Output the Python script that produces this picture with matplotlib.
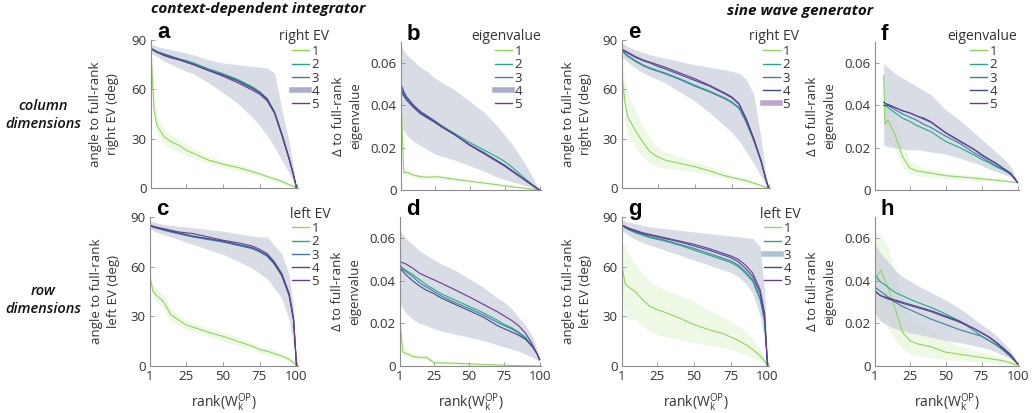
import matplotlib
matplotlib.use("Agg")
import matplotlib.pyplot as plt
import numpy as np
from matplotlib.lines import Line2D
from matplotlib.colors import to_rgb

plt.rcParams['font.family'] = ['Open Sans', 'DejaVu Sans']
plt.rcParams['mathtext.fontset'] = 'custom'
plt.rcParams['mathtext.rm'] = 'Open Sans'
plt.rcParams['mathtext.it'] = 'Open Sans:italic'

# sample points of rank(W^OP_k)
rank = [1, 3, 5, 10, 15, 20, 25, 30, 40, 50, 60, 70, 75, 80, 85, 90, 95, 98, 100]
rank_f = [7, 8, 10, 15, 20, 25, 30, 35, 40, 50, 60, 70, 75, 80, 85, 90, 95, 98, 100]

ev_names = ['1', '2', '3', '4', '5']
ev_colors = ['#8fd65e', '#25a98b', '#3f7f9d', '#3f4a8c', '#6c3a91']

# ---- a: context-dependent integrator, right EV angle (deg)
a_ev = [
    [84, 48, 38, 31, 28, 26, 23, 21, 17, 14.5, 12.5, 10, 8.5, 7, 5.5, 4, 2, 1, 0],
    [85, 84, 83, 81, 80, 78.5, 77.5, 76, 72.5, 69.5, 66, 61.5, 58.5, 54.5, 46.5, 33, 18, 8, 0],
    [85, 84, 83, 81.5, 80, 78.5, 77, 75.5, 72, 69, 65.5, 61, 58, 54, 46, 33, 18, 8, 0],
    [85, 83.5, 82.5, 81, 79.5, 78, 76.5, 75, 71.5, 68.5, 65, 60.5, 58, 54, 46, 32.5, 17.5, 7.5, 0],
    [84.5, 83.5, 82.5, 80.5, 79, 78, 76.5, 75, 71.5, 68, 64, 59.5, 57, 53, 45.5, 32, 17.5, 7.5, 0],
]
a_ev1_lo = [80, 42, 33, 27, 24, 22, 20, 18, 15, 12.5, 10.5, 8.5, 7, 5.5, 4, 2.5, 1, 0.5, 0]
a_ev1_hi = [87, 55, 44, 36, 32, 30, 27, 24, 19.5, 16.5, 14.5, 12, 10, 8.5, 7, 5.5, 3, 1.5, 0]
a_lo = [82, 81, 80, 77, 75, 73, 71, 69.5, 64, 58, 51.5, 43, 38, 32, 25, 17, 9, 4, 0]
a_hi = [87, 87, 86, 85, 84, 83, 82, 81, 78, 76, 75, 74, 73.5, 73, 70, 48, 28, 12, 0]

# ---- c: context-dependent integrator, left EV angle (deg)
c_ev = [
    [54, 45, 43, 39, 31, 28, 25, 23.5, 20.5, 18, 15, 12, 10, 9, 7.5, 6, 4, 2, 0],
    [85, 84, 83.5, 82, 81, 80, 79, 78, 76.5, 75, 73, 71, 69, 66.5, 62, 55, 43, 28, 0],
    [85, 84, 83.5, 82.5, 81, 80, 79, 78, 76.5, 75, 73, 71, 69, 66.5, 61.5, 54.5, 42.5, 27.5, 0],
    [85, 84, 83.5, 82.5, 81.5, 80.5, 79.5, 78.5, 77, 75.5, 73.5, 71.5, 69.5, 67, 62, 55, 43, 28, 0],
    [85, 84.5, 84, 83, 82, 81, 80.5, 80, 78, 76, 74.5, 72.5, 70.5, 68, 63, 56, 44, 29, 0],
]
c_ev1_lo = [50, 41, 39, 35, 27, 25, 22, 21, 18, 15.5, 12.5, 10, 8, 7, 5.5, 4.5, 2.5, 1, 0]
c_ev1_hi = [58, 49, 47, 43, 35, 31, 28, 26, 23, 20.5, 17.5, 14, 12, 11, 9.5, 7.5, 5.5, 3, 0]
c_lo = [83, 82, 81, 79.5, 78, 76.5, 75, 73.5, 70.5, 67.5, 63.5, 59, 56, 53, 47, 41, 28, 12, 0]
c_hi = [87, 87, 86.5, 85.5, 85, 84.5, 84, 83.5, 82.5, 81.5, 80, 78.5, 78, 78, 73, 68, 55, 35, 0]

# ---- e: sine wave generator, right EV angle (deg)
e_ev = [
    [68, 52, 43, 35, 28, 22, 19, 17, 15, 13, 10.5, 7.5, 6.5, 5.5, 4.5, 3, 1.5, 0.5, 0],
    [84, 82, 80.5, 77.5, 75, 73, 71.5, 70, 66.5, 62.5, 59, 55, 52.5, 49, 40, 29, 16, 6, 0],
    [84, 81.5, 80, 77, 74.5, 72.5, 71, 69.5, 66, 62, 58.5, 54.5, 52, 48.5, 40, 29, 16, 6, 0],
    [84.5, 83, 82, 79.5, 77.5, 76, 74, 72.5, 69, 65.5, 62, 57.5, 55, 51, 41.5, 30, 16.5, 6, 0],
    [84.5, 83.5, 82.5, 80, 78, 76.5, 75, 73.5, 70, 66.5, 62.5, 58, 55.5, 51.5, 42, 30, 16.5, 6, 0],
]
e_ev1_lo = [60, 40, 32, 25, 19, 15, 13, 12, 11, 10, 8, 6, 5, 4, 3, 2, 1, 0.3, 0]
e_ev1_hi = [76, 66, 58, 47, 38, 30, 25, 22, 19, 16, 13, 9.5, 8, 7, 6, 4, 2, 0.8, 0]
e_lo = [80, 78, 76.5, 73, 70, 68, 66, 64, 58.5, 53, 46, 38, 34, 29, 22, 15, 7, 2, 0]
e_hi = [88, 87, 86, 84, 82.5, 81, 80, 79, 77, 75, 73.5, 72, 71, 70, 66, 57, 30, 10, 0]

# ---- g: sine wave generator, left EV angle (deg)
g_ev = [
    [61, 50, 48, 45, 40, 36, 34, 32.5, 29, 25, 22, 19.5, 17.5, 15.5, 13, 10, 6, 3, 0],
    [85, 83.5, 82.5, 80.5, 79, 77.5, 76.5, 75.5, 73, 70, 67, 64, 62.5, 60, 56, 51, 40, 27, 0],
    [85, 84, 83, 81, 79.5, 78, 77, 76, 73.5, 71, 68, 65, 63.5, 61, 57, 52, 41, 28, 0],
    [85, 84, 83, 81.5, 80, 79, 78, 77, 75, 72.5, 70, 67, 65.5, 63, 59, 54, 44, 30, 0],
    [85, 84.5, 83.5, 82, 80.5, 79.5, 78.5, 77.5, 75.5, 73.5, 71, 68, 66.5, 64.5, 61, 56, 46, 32, 0],
]
g_ev1_lo = [45, 30, 28, 28, 24, 21, 19, 18, 16, 14, 12.5, 11, 10, 8.5, 7, 5, 3, 1.5, 0]
g_ev1_hi = [76, 72, 68, 62, 56, 51, 48, 46, 42.5, 39, 34, 29.5, 27, 24, 21, 16, 10, 5, 0]
g_lo = [82, 80.5, 79, 76.5, 74.5, 73, 71.5, 70, 67, 64, 61, 58, 56.5, 54, 50, 44, 30, 15, 0]
g_hi = [88, 87.5, 87, 86, 85, 84, 83.5, 83, 82, 81, 80, 79, 78.5, 78, 77.5, 77, 72, 45, 0]

# ---- b: context-dependent integrator, eigenvalue difference
b_ev = [
    [0.043, 0.008, 0.0085, 0.007, 0.0063, 0.006, 0.0063, 0.006, 0.005, 0.0042, 0.0033, 0.0025, 0.002, 0.0016, 0.0012, 0.0008, 0.0004, 0.0002, 0.0],
    [0.049, 0.046, 0.044, 0.040, 0.037, 0.035, 0.0328, 0.0305, 0.0265, 0.0225, 0.019, 0.0155, 0.0135, 0.011, 0.008, 0.0052, 0.0025, 0.001, 0.0],
    [0.048, 0.045, 0.043, 0.0395, 0.0365, 0.0345, 0.0322, 0.030, 0.026, 0.0215, 0.0178, 0.0138, 0.0118, 0.0094, 0.007, 0.0046, 0.0022, 0.0008, 0.0],
    [0.047, 0.0445, 0.0425, 0.039, 0.036, 0.034, 0.032, 0.0298, 0.0258, 0.0213, 0.0175, 0.0135, 0.0115, 0.0092, 0.0068, 0.0045, 0.0022, 0.0008, 0.0],
    [0.050, 0.0465, 0.044, 0.040, 0.037, 0.0348, 0.0325, 0.030, 0.026, 0.0212, 0.0173, 0.0133, 0.0113, 0.009, 0.0067, 0.0044, 0.0021, 0.0008, 0.0],
]
b_ev1_lo = [0.040, 0.007, 0.0075, 0.006, 0.0055, 0.0052, 0.0055, 0.0052, 0.0043, 0.0036, 0.0028, 0.002, 0.0016, 0.0012, 0.0009, 0.0006, 0.0003, 0.0001, 0.0]
b_ev1_hi = [0.046, 0.0095, 0.0098, 0.0082, 0.0073, 0.007, 0.0072, 0.0069, 0.0058, 0.0049, 0.0039, 0.003, 0.0025, 0.002, 0.0015, 0.001, 0.0005, 0.0003, 0.0]
b_lo = [0.030, 0.028, 0.026, 0.023, 0.021, 0.019, 0.017, 0.016, 0.014, 0.0115, 0.009, 0.006, 0.005, 0.004, 0.003, 0.002, 0.001, 0.0003, 0.0]
b_hi = [0.068, 0.066, 0.064, 0.061, 0.058, 0.056, 0.053, 0.051, 0.047, 0.042, 0.037, 0.030, 0.026, 0.022, 0.017, 0.012, 0.006, 0.002, 0.0]

# ---- d: context-dependent integrator, eigenvalue difference (left)
d_ev = [
    [0.021, 0.0065, 0.006, 0.0045, 0.004, 0.004, 0.0015, 0.0015, 0.0013, 0.001, 0.0007, 0.0005, 0.0004, 0.0003, 0.0002, 0.0001, 0.0001, 0.0, 0.0],
    [0.047, 0.046, 0.045, 0.043, 0.0405, 0.038, 0.036, 0.034, 0.031, 0.028, 0.025, 0.0215, 0.0195, 0.018, 0.016, 0.0135, 0.009, 0.006, 0.003],
    [0.0475, 0.0455, 0.0445, 0.042, 0.039, 0.037, 0.035, 0.033, 0.0298, 0.027, 0.024, 0.0205, 0.019, 0.0175, 0.0155, 0.013, 0.009, 0.006, 0.003],
    [0.046, 0.0445, 0.043, 0.040, 0.0375, 0.0355, 0.034, 0.032, 0.029, 0.026, 0.023, 0.019, 0.0175, 0.016, 0.0145, 0.0125, 0.009, 0.006, 0.003],
    [0.049, 0.0485, 0.048, 0.046, 0.0435, 0.042, 0.0405, 0.039, 0.0358, 0.0325, 0.029, 0.0255, 0.0235, 0.0215, 0.019, 0.0155, 0.010, 0.006, 0.003],
]
d_ev1_lo = [0.018, 0.005, 0.0045, 0.0033, 0.003, 0.003, 0.0008, 0.0008, 0.0007, 0.0005, 0.0003, 0.0002, 0.0002, 0.0001, 0.0001, 0.0, 0.0, 0.0, 0.0]
d_ev1_hi = [0.024, 0.0085, 0.0078, 0.006, 0.0052, 0.0052, 0.0024, 0.0022, 0.002, 0.0016, 0.0012, 0.0009, 0.0007, 0.0006, 0.0004, 0.0003, 0.0002, 0.0001, 0.0]
d_lo = [0.030, 0.027, 0.025, 0.022, 0.020, 0.019, 0.0175, 0.0165, 0.015, 0.0135, 0.012, 0.010, 0.009, 0.008, 0.007, 0.0055, 0.004, 0.003, 0.002]
d_hi = [0.064, 0.062, 0.060, 0.057, 0.054, 0.052, 0.050, 0.048, 0.045, 0.041, 0.037, 0.032, 0.030, 0.027, 0.023, 0.019, 0.014, 0.008, 0.004]

# ---- f: sine wave generator, eigenvalue difference (uses rank_f)
f_ev = [
    [0.054, 0.031, 0.033, 0.026, 0.016, 0.0105, 0.009, 0.0085, 0.008, 0.0068, 0.0062, 0.0056, 0.0053, 0.005, 0.0046, 0.0043, 0.0039, 0.0037, 0.0035],
    [0.040, 0.040, 0.039, 0.0365, 0.034, 0.0325, 0.0305, 0.029, 0.0275, 0.023, 0.020, 0.0165, 0.0145, 0.013, 0.011, 0.0095, 0.0075, 0.005, 0.0035],
    [0.0415, 0.041, 0.040, 0.038, 0.036, 0.0345, 0.033, 0.031, 0.0295, 0.0255, 0.022, 0.0175, 0.0155, 0.0135, 0.0115, 0.0097, 0.0076, 0.0055, 0.0035],
    [0.0415, 0.041, 0.0405, 0.039, 0.0375, 0.0365, 0.035, 0.0335, 0.032, 0.027, 0.023, 0.019, 0.0165, 0.0145, 0.0125, 0.0102, 0.008, 0.0055, 0.0035],
    [0.040, 0.040, 0.040, 0.039, 0.0375, 0.0365, 0.035, 0.034, 0.0322, 0.0272, 0.0232, 0.0192, 0.0168, 0.0147, 0.0127, 0.0103, 0.008, 0.0055, 0.0035],
]
f_ev1_lo = [0.046, 0.022, 0.024, 0.019, 0.011, 0.0075, 0.0068, 0.0064, 0.006, 0.0053, 0.0049, 0.0045, 0.0043, 0.0041, 0.0039, 0.0037, 0.0035, 0.0034, 0.0033]
f_ev1_hi = [0.062, 0.040, 0.042, 0.034, 0.022, 0.014, 0.0115, 0.0106, 0.0098, 0.0083, 0.0075, 0.0067, 0.0063, 0.0059, 0.0054, 0.005, 0.0044, 0.004, 0.0037]
f_lo = [0.021, 0.021, 0.0205, 0.020, 0.0195, 0.019, 0.019, 0.0185, 0.018, 0.017, 0.015, 0.0128, 0.0115, 0.010, 0.0088, 0.0075, 0.0063, 0.005, 0.0035]
f_hi = [0.060, 0.059, 0.058, 0.055, 0.053, 0.051, 0.049, 0.047, 0.045, 0.038, 0.033, 0.027, 0.024, 0.021, 0.018, 0.015, 0.0115, 0.007, 0.0035]

# ---- h: sine wave generator, eigenvalue difference (left)
h_ev = [
    [0.040, 0.043, 0.045, 0.037, 0.027, 0.016, 0.012, 0.0105, 0.009, 0.0065, 0.0055, 0.0045, 0.004, 0.0035, 0.003, 0.0025, 0.0015, 0.0008, 0.0005],
    [0.043, 0.041, 0.0395, 0.037, 0.0345, 0.033, 0.0315, 0.030, 0.0275, 0.0245, 0.021, 0.0165, 0.014, 0.012, 0.010, 0.0075, 0.0045, 0.0025, 0.001],
    [0.037, 0.036, 0.035, 0.0325, 0.030, 0.028, 0.0265, 0.025, 0.022, 0.0195, 0.017, 0.015, 0.014, 0.012, 0.010, 0.0075, 0.0045, 0.0025, 0.001],
    [0.0355, 0.034, 0.033, 0.032, 0.031, 0.030, 0.029, 0.028, 0.026, 0.0235, 0.021, 0.0175, 0.0155, 0.0135, 0.011, 0.008, 0.005, 0.0025, 0.001],
    [0.035, 0.034, 0.033, 0.0315, 0.0305, 0.0295, 0.0285, 0.0275, 0.0255, 0.023, 0.0205, 0.0175, 0.0157, 0.0138, 0.0113, 0.0085, 0.0055, 0.003, 0.001],
]
h_ev1_lo = [0.022, 0.020, 0.022, 0.018, 0.012, 0.008, 0.006, 0.005, 0.004, 0.003, 0.0025, 0.002, 0.0018, 0.0015, 0.0012, 0.001, 0.0007, 0.0004, 0.0003]
h_ev1_hi = [0.063, 0.062, 0.062, 0.056, 0.045, 0.032, 0.025, 0.021, 0.017, 0.012, 0.0095, 0.0075, 0.0065, 0.0058, 0.005, 0.004, 0.0025, 0.0013, 0.0007]
h_lo = [0.025, 0.023, 0.021, 0.019, 0.0175, 0.0165, 0.0155, 0.015, 0.0135, 0.012, 0.011, 0.0095, 0.0088, 0.008, 0.0065, 0.005, 0.0035, 0.002, 0.001]
h_hi = [0.058, 0.055, 0.053, 0.049, 0.045, 0.042, 0.040, 0.038, 0.0345, 0.031, 0.027, 0.022, 0.0195, 0.017, 0.0145, 0.011, 0.0075, 0.004, 0.001]

W, H = 1036, 413
fig = plt.figure(figsize=(W / 100, H / 100), dpi=100)

spine_col = '#8c8c8c'
text_col = '#333333'


def px_axes(left, top, right, bottom):
    return fig.add_axes([left / W, 1 - bottom / H, (right - left) / W, (bottom - top) / H])


def pale(c, k=0.45):
    r, g, b = to_rgb(c)
    return (1 - k + k * r, 1 - k + k * g, 1 - k + k * b)


def draw_panel(box, x, ev, ev1_lo, ev1_hi, lo, hi, angle, ylab, ylab_x, bottom_row, letter):
    ax = px_axes(*box)
    ax.fill_between(x, ev1_lo, ev1_hi, color=ev_colors[0], alpha=0.16, lw=0)
    ax.fill_between(x, lo, hi, color='#c8cfdb', alpha=0.72, lw=0)
    for i in range(5):
        ax.plot(x, ev[i], color=ev_colors[i], lw=0.8)
    ax.set_xlim(1, 101)
    ax.set_xticks([1, 25, 50, 75, 100])
    if angle:
        ax.set_ylim(0, 90)
        ax.set_yticks([0, 30, 60, 90])
    else:
        ax.set_ylim(0, 0.07)
        ax.set_yticks([0, 0.02, 0.04, 0.06])
        ax.set_yticklabels(['0', '0.02', '0.04', '0.06'])
    for s in ['top', 'right']:
        ax.spines[s].set_visible(False)
    for s in ['left', 'bottom']:
        ax.spines[s].set_color(spine_col)
        ax.spines[s].set_linewidth(0.8)
    ax.tick_params(direction='in', length=3, width=0.6, color=spine_col,
                   labelsize=9.5, labelcolor=text_col, pad=3)
    if bottom_row:
        ax.set_xlabel(r'rank(W$^{\mathrm{OP}}_{\mathrm{k}}$)', fontsize=10, color=text_col, labelpad=6)
    else:
        ax.tick_params(labelbottom=False)
    ax.set_ylabel(ylab, fontsize=9.5, color=text_col, linespacing=1.4)
    # right edge of the rotated label, in pixels
    ax.yaxis.set_label_coords((ylab_x - box[0]) / (box[2] - box[0]), 0.5)
    fig.text((box[0] + 6) / W, 1 - (box[1] - 2) / H, letter, fontsize=16, fontweight='bold',
             family=['Liberation Sans', 'DejaVu Sans'], va='baseline', ha='left')
    return ax


def add_legend(ax, title, title_right, title_y, entries_right, entries_top, patch_idx=None):
    handles = []
    for i, c in enumerate(ev_colors):
        if i == patch_idx:
            handles.append(Line2D([], [], color=pale(c), lw=4))
        else:
            handles.append(Line2D([], [], color=c, lw=1))
    leg = ax.legend(handles, ev_names, loc='upper right',
                    bbox_to_anchor=(entries_right / W, 1 - entries_top / H), bbox_transform=fig.transFigure,
                    frameon=False, fontsize=9.5, handlelength=1.3,
                    handletextpad=0.15, labelspacing=0.02, borderpad=0, borderaxespad=0)
    for t in leg.get_texts():
        t.set_color(text_col)
    leg.set_zorder(10)
    fig.text(title_right / W, 1 - title_y / H, title, fontsize=10, color=text_col,
             ha='right', va='center')


lab_r = 'angle to full-rank\nright EV (deg)'
lab_l = 'angle to full-rank\nleft EV (deg)'
lab_d = '\u0394 to full-rank\neigenvalue'

ax_a = draw_panel((151, 40, 298, 188), rank, a_ev, a_ev1_lo, a_ev1_hi, a_lo, a_hi, True, lab_r, 119, False, 'a')
ax_b = draw_panel((401, 42, 541, 190), rank, b_ev, b_ev1_lo, b_ev1_hi, b_lo, b_hi, False, lab_d, 362, False, 'b')
ax_e = draw_panel((622, 40, 770, 188), rank, e_ev, e_ev1_lo, e_ev1_hi, e_lo, e_hi, True, lab_r, 592, False, 'e')
ax_f = draw_panel((875, 42, 1019, 190), rank_f, f_ev, f_ev1_lo, f_ev1_hi, f_lo, f_hi, False, lab_d, 836, False, 'f')
ax_c = draw_panel((150, 217, 298, 366), rank, c_ev, c_ev1_lo, c_ev1_hi, c_lo, c_hi, True, lab_l, 120, True, 'c')
ax_d = draw_panel((400, 217, 541, 366), rank, d_ev, d_ev1_lo, d_ev1_hi, d_lo, d_hi, False, lab_d, 361, True, 'd')
ax_g = draw_panel((622, 217, 769, 366), rank, g_ev, g_ev1_lo, g_ev1_hi, g_lo, g_hi, True, lab_l, 592, True, 'g')
ax_h = draw_panel((875, 217, 1019, 366), rank, h_ev, h_ev1_lo, h_ev1_hi, h_lo, h_hi, False, lab_d, 836, True, 'h')

add_legend(ax_a, 'right EV', 329, 36, 319, 45, 3)
add_legend(ax_b, 'eigenvalue', 541, 37, 522, 45, 3)
add_legend(ax_e, 'right EV', 799, 36, 790, 45, 4)
add_legend(ax_f, 'eigenvalue', 1017, 37, 997, 45)
add_legend(ax_c, 'left EV', 331, 215, 319, 222)
add_legend(ax_g, 'left EV', 801, 215, 791, 222, 2)

fig.text(258 / W, 1 - 9 / H, 'context-dependent integrator', fontsize=11, fontweight='bold',
         style='italic', ha='center', va='center', color='#111111')
fig.text(800 / W, 1 - 11 / H, 'sine wave generator', fontsize=11, fontweight='bold',
         style='italic', ha='center', va='center', color='#111111')
fig.text(43 / W, 1 - 115 / H, 'column\ndimensions', fontsize=10.5, fontweight='semibold',
         style='italic', ha='center', va='center', linespacing=1.3, color='#111111')
fig.text(43 / W, 1 - 300 / H, 'row\ndimensions', fontsize=10.5, fontweight='semibold',
         style='italic', ha='center', va='center', linespacing=1.3, color='#111111')

fig.savefig('out.png', dpi=100)
